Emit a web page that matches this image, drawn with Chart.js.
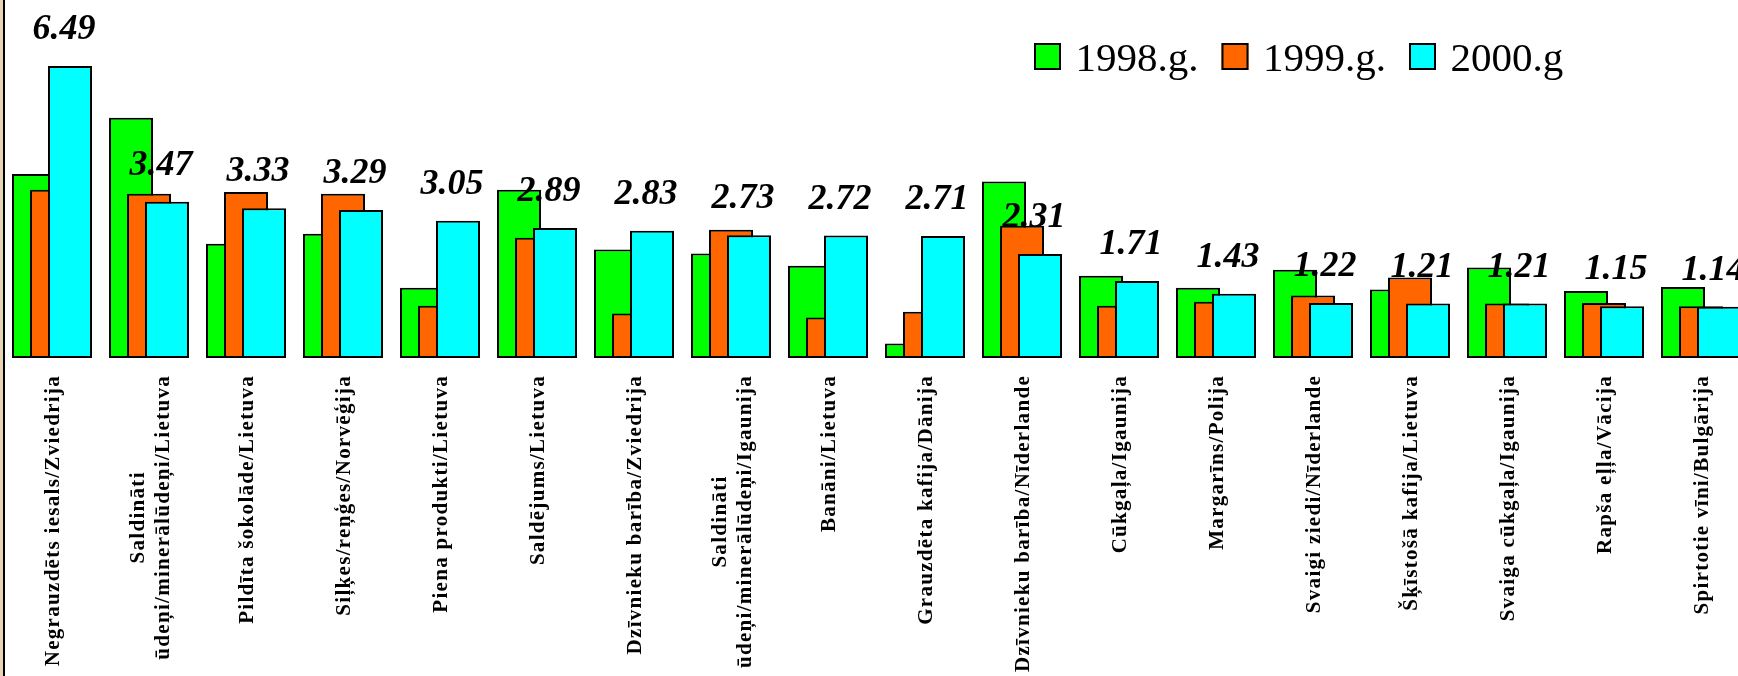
<!DOCTYPE html>
<html>
<head>
<meta charset="utf-8">
<script src="https://cdn.jsdelivr.net/npm/chart.js@4.4.0/dist/chart.umd.min.js"></script>
<style>
  html, body { margin: 0; padding: 0; background: #fff; overflow: hidden; }
  #wrap { position: absolute; left: 0; top: 0; width: 1760px; height: 676px; }
  #edge { position: absolute; left: 0; top: 0; width: 3px; height: 676px; background: #e8d6b3; border-right: 2px solid #000; }
</style>
</head>
<body>
<div id="wrap"><canvas id="myChart"></canvas></div>
<div id="edge"></div>
<script>
// Kategorijas (prece/valsts)
const categories = [
    ['Negrauzdēts iesals/Zviedrija'],
    ['Saldināti', 'ūdeņi/minerālūdeņi/Lietuva'],
    ['Pildīta šokolāde/Lietuva'],
    ['Siļķes/reņģes/Norvēģija'],
    ['Piena produkti/Lietuva'],
    ['Saldējums/Lietuva'],
    ['Dzīvnieku barība/Zviedrija'],
    ['Saldināti', 'ūdeņi/minerālūdeņi/Igaunija'],
    ['Banāni/Lietuva'],
    ['Grauzdēta kafija/Dānija'],
    ['Dzīvnieku barība/Nīderlande'],
    ['Cūkgaļa/Igaunija'],
    ['Margarīns/Polija'],
    ['Svaigi ziedi/Nīderlande'],
    ['Šķīstošā kafija/Lietuva'],
    ['Svaiga cūkgaļa/Igaunija'],
    ['Rapša eļļa/Vācija'],
    ['Spirtotie vīni/Bulgārija']
];

const seriesLabels = ['1998.g.', '1999.g.', '2000.g'];
const values1998 = [4.09, 5.34, 2.54, 2.76, 1.56, 3.74, 2.41, 2.32, 2.05, 0.32, 3.92, 1.83, 1.56, 1.96, 1.52, 2.01, 1.49, 1.58];
const values1999 = [3.74, 3.65, 3.69, 3.65, 1.16, 2.67, 0.99, 2.85, 0.90, 1.03, 2.94, 1.16, 1.25, 1.39, 1.79, 1.21, 1.22, 1.15];
const values2000 = [6.49, 3.47, 3.33, 3.29, 3.05, 2.89, 2.83, 2.73, 2.72, 2.71, 2.31, 1.71, 1.43, 1.22, 1.21, 1.21, 1.15, 1.14];

// Stabiņi pārklājas: pirmais dataset apakšā, pēdējais virsū
const overlapPlugin = {
    id: 'overlapPlugin',
    beforeDatasetsDraw(chart) {
        chart.data.datasets.forEach((ds, i) => {
            chart.getDatasetMeta(i).controller.draw();
        });
        return false;
    },
    afterDraw(chart) {
        const ctx = chart.ctx;
        const xScale = chart.scales.x;
        const area = chart.chartArea;
        ctx.save();

        // vērtības virs 2000.g stabiņiem
        ctx.font = 'italic bold 36px "Liberation Serif"';
        ctx.fillStyle = '#000';
        ctx.textAlign = 'center';
        ctx.textBaseline = 'alphabetic';
        chart.getDatasetMeta(2).data.forEach((bar, i) => {
            ctx.fillText(values2000[i].toFixed(2), bar.x - 6, bar.y - 27);
        });

        // kategoriju nosaukumi, pagriezti
        ctx.font = 'bold 21px "Liberation Serif"';
        ctx.letterSpacing = '1.3px';
        categories.forEach((lines, i) => {
            const cx = xScale.getPixelForValue(i);
            const maxW = Math.max(...lines.map(l => ctx.measureText(l).width));
            const yc = area.bottom + 17 + maxW / 2;
            lines.forEach((l, j) => {
                ctx.save();
                ctx.translate(cx + 7 + (j - (lines.length - 1) / 2) * 25, yc);
                ctx.rotate(-Math.PI / 2);
                ctx.fillText(l, 0, 0);
                ctx.restore();
            });
        });

        // leģenda
        ctx.letterSpacing = '0px';
        ctx.font = '41px "Liberation Serif"';
        ctx.textAlign = 'left';
        let lx = 1034;
        const ly = 43;
        chart.data.datasets.forEach(ds => {
            ctx.fillStyle = ds.backgroundColor;
            ctx.fillRect(lx, ly, 27, 27);
            ctx.lineWidth = 2;
            ctx.strokeStyle = '#000';
            ctx.strokeRect(lx + 1, ly + 1, 25, 25);
            ctx.fillStyle = '#000';
            ctx.fillText(ds.label, lx + 41.5, ly + 27.7);
            lx += 41.5 + ctx.measureText(ds.label).width + 23;
        });
        ctx.restore();
    }
};

const colors = ['#00FF00', '#FF6600', '#00FFFF'];
const allValues = [values1998, values1999, values2000];

const config = {
    type: 'bar',
    data: {
        labels: categories,
        datasets: allValues.map((vals, i) => ({
            label: seriesLabels[i],
            data: vals,
            backgroundColor: colors[i],
            borderColor: '#000',
            borderWidth: 2,
            borderSkipped: false,
            categoryPercentage: 0.5567,
            barPercentage: 2.444
        }))
    },
    options: {
        responsive: true,
        maintainAspectRatio: false,
        animation: false,
        layout: { padding: { top: 43, bottom: 318, left: 3.5, right: 10.5 } },
        scales: {
            x: { display: false },
            y: { display: false, min: 0, max: 7 }
        },
        plugins: {
            legend: { display: false },
            tooltip: { enabled: false }
        }
    },
    plugins: [overlapPlugin]
};

var ctx = document.getElementById('myChart').getContext('2d');
new Chart(ctx, config);
</script>
</body>
</html>
